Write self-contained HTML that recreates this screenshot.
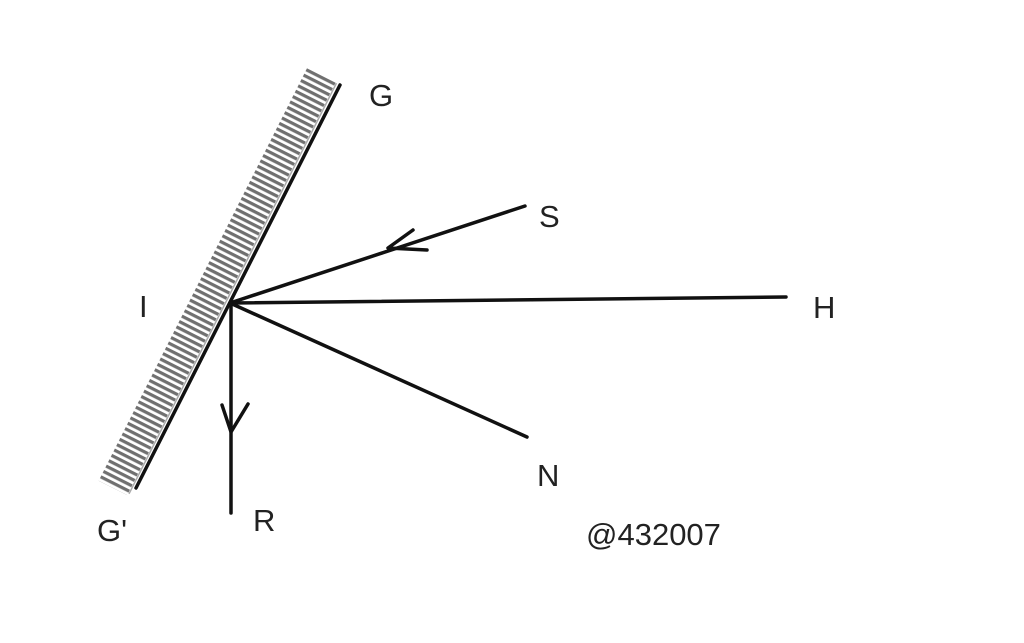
<!DOCTYPE html>
<html><head><meta charset="utf-8"><style>
html,body{margin:0;padding:0;background:#fff;}
svg{display:block}
text{font-family:"Liberation Sans",sans-serif;font-size:31px;fill:#222;}
</style></head><body>
<svg width="1024" height="643" viewBox="0 0 1024 643" xmlns="http://www.w3.org/2000/svg">
<defs>
<pattern id="hp" width="6" height="50" patternUnits="userSpaceOnUse">
<rect x="0" y="0" width="3.2" height="50" fill="#707070"/>
</pattern>
</defs>
<g transform="translate(340,85) rotate(116.8)">
<rect x="-2" y="5" width="464" height="32" fill="url(#hp)"/>
<line x1="0" y1="4" x2="460" y2="4" stroke="#aaa" stroke-width="1.5"/>
</g>
<g stroke="#111" stroke-width="3.5" fill="none" stroke-linecap="round" stroke-linejoin="round">
<line x1="340" y1="85" x2="136" y2="488"/>
<line x1="230" y1="303" x2="525" y2="206"/>
<line x1="230" y1="303" x2="786" y2="297"/>
<line x1="230" y1="303" x2="527" y2="437"/>
<line x1="231" y1="303" x2="231" y2="513"/>
<polyline points="413,230 388,248 427,250"/>
<polyline points="222,405 231,432 248,404"/>
</g>
<text x="369" y="106">G</text>
<text x="539" y="227">S</text>
<text x="813" y="318">H</text>
<text x="139" y="317">I</text>
<text x="537" y="486">N</text>
<text x="253" y="531">R</text>
<text x="97" y="541">G'</text>
<text x="586" y="545">@432007</text>
</svg>
</body></html>
